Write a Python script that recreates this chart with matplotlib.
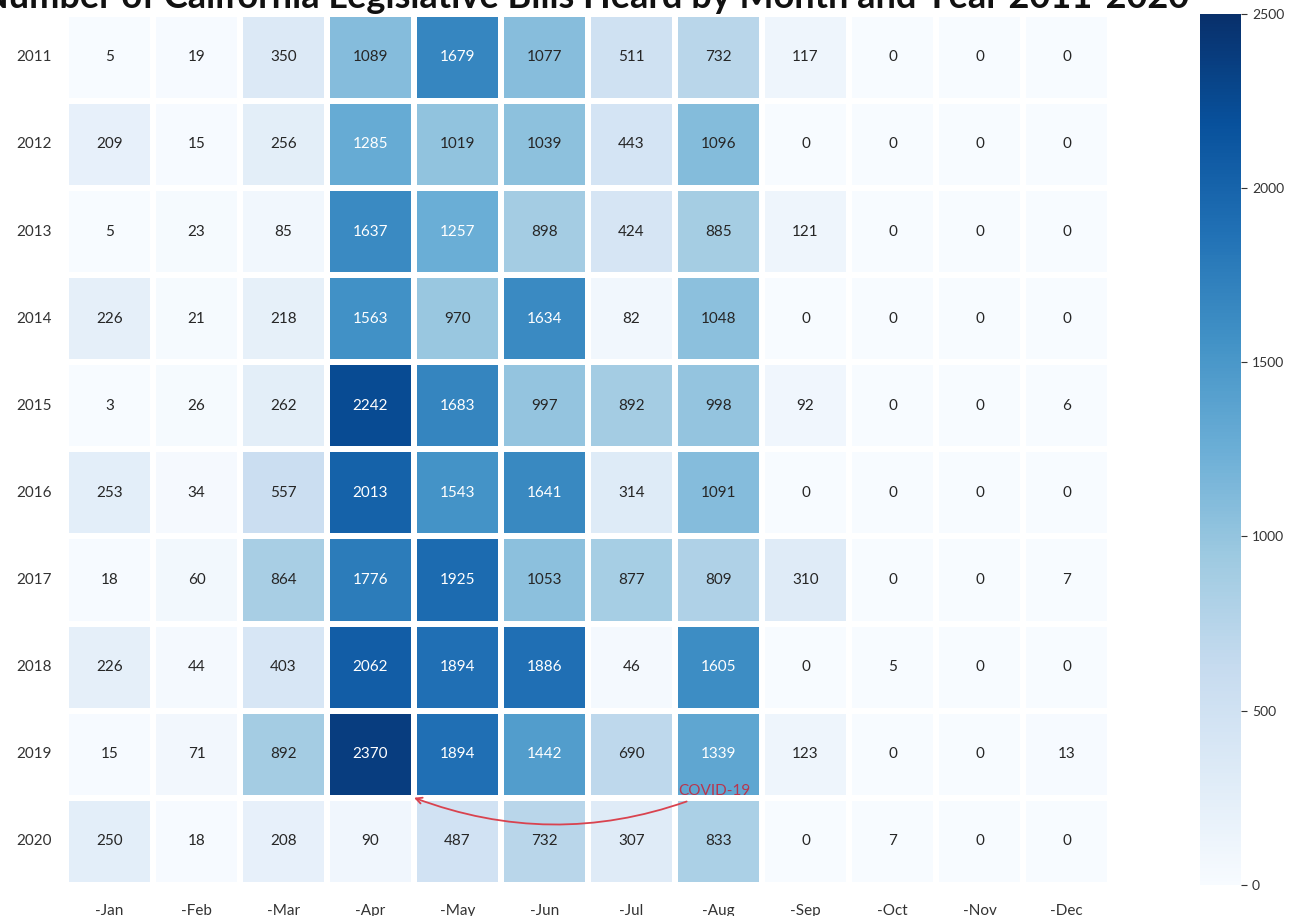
import numpy as np
import matplotlib.pyplot as plt
import seaborn as sns

years = ['2011', '2012', '2013', '2014', '2015', '2016', '2017', '2018', '2019', '2020']
months = ['-Jan', '-Feb', '-Mar', '-Apr', '-May', '-Jun', '-Jul', '-Aug', '-Sep', '-Oct', '-Nov', '-Dec']

bills_2011 = [5, 19, 350, 1089, 1679, 1077, 511, 732, 117, 0, 0, 0]
bills_2012 = [209, 15, 256, 1285, 1019, 1039, 443, 1096, 0, 0, 0, 0]
bills_2013 = [5, 23, 85, 1637, 1257, 898, 424, 885, 121, 0, 0, 0]
bills_2014 = [226, 21, 218, 1563, 970, 1634, 82, 1048, 0, 0, 0, 0]
bills_2015 = [3, 26, 262, 2242, 1683, 997, 892, 998, 92, 0, 0, 6]
bills_2016 = [253, 34, 557, 2013, 1543, 1641, 314, 1091, 0, 0, 0, 0]
bills_2017 = [18, 60, 864, 1776, 1925, 1053, 877, 809, 310, 0, 0, 7]
bills_2018 = [226, 44, 403, 2062, 1894, 1886, 46, 1605, 0, 5, 0, 0]
bills_2019 = [15, 71, 892, 2370, 1894, 1442, 690, 1339, 123, 0, 0, 13]
bills_2020 = [250, 18, 208, 90, 487, 732, 307, 833, 0, 7, 0, 0]

data = np.array([bills_2011, bills_2012, bills_2013, bills_2014, bills_2015,
                 bills_2016, bills_2017, bills_2018, bills_2019, bills_2020])

plt.rcParams['font.family'] = ['Lato', 'DejaVu Sans']

fig = plt.figure(figsize=(13.02, 9.16), dpi=100)
ax = fig.add_axes([0.0507, 0.034, 0.8018, 0.951])
cax = fig.add_axes([0.9215, 0.034, 0.032, 0.951])

sns.heatmap(data, ax=ax, cbar_ax=cax, cmap='Blues', vmin=0, vmax=2500,
            annot=True, fmt='d', annot_kws={'fontsize': 11},
            linewidths=4, linecolor='white',
            xticklabels=months, yticklabels=years)

ax.tick_params(axis='both', length=0, labelsize=11, colors='#333333')
ax.tick_params(axis='x', pad=14)
ax.tick_params(axis='y', pad=10)
plt.setp(ax.get_yticklabels(), rotation=0)

cax.tick_params(labelsize=10, length=4, width=0.8, colors='#333333')
cax.set_yticks([0, 500, 1000, 1500, 2000, 2500])

# covid note between 2019 and 2020 rows
ax.annotate('COVID-19', xy=(4.0, 9.0), xytext=(7.45, 8.92),
            ha='center', va='center', fontsize=11, color='#b8364e',
            arrowprops=dict(arrowstyle='->', color='#d9434f', lw=1.3,
                            connectionstyle='arc3,rad=-0.2',
                            shrinkA=2, shrinkB=0))

fig.text(0.449, 0.991, 'Number of California Legislative Bills Heard by Month and Year 2011-2020',
         ha='center', va='baseline', fontsize=26, fontweight='bold', color='#111111')

fig.savefig('out.png', dpi=100)
